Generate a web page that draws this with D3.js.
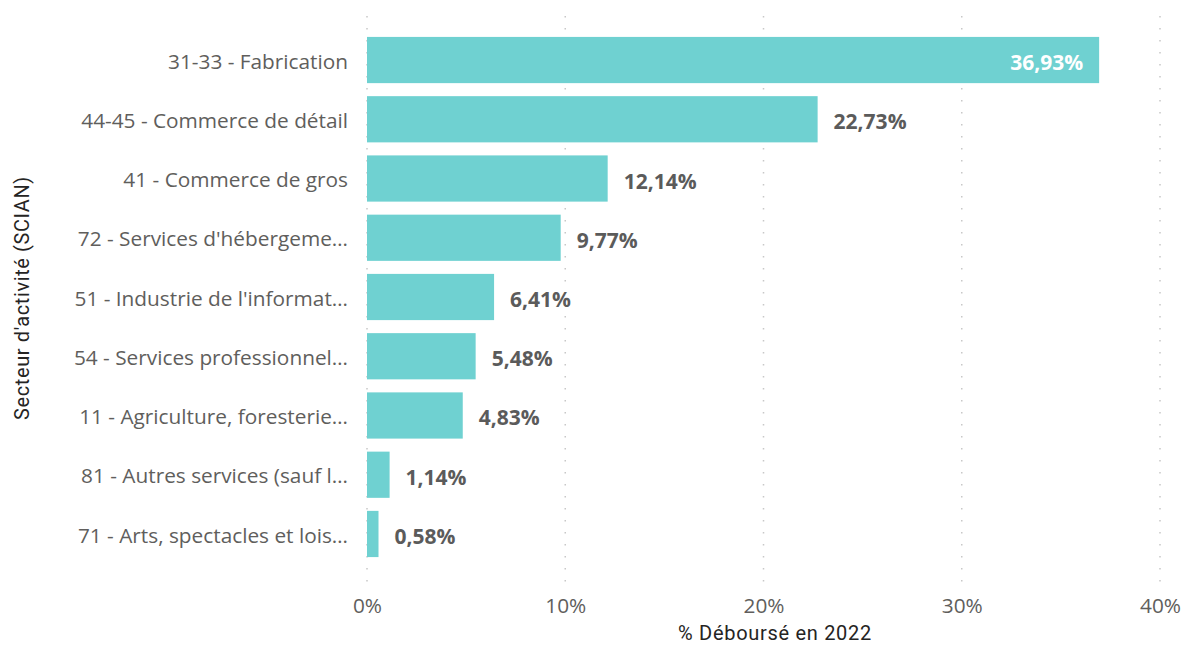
<!DOCTYPE html>
<html><head><meta charset="utf-8">
<script src="https://cdn.jsdelivr.net/npm/d3@7"></script>
<style>body{margin:0;background:#fff}svg{display:block}</style>
</head><body>
<svg id="c" width="1183" height="646"></svg>
<script>
const categories = ["31-33 - Fabrication","44-45 - Commerce de détail","41 - Commerce de gros","72 - Services d'hébergeme…","51 - Industrie de l'informat…","54 - Services professionnel…","11 - Agriculture, foresterie…","81 - Autres services (sauf l…","71 - Arts, spectacles et lois…"];
const values = [36.93,22.73,12.14,9.77,6.41,5.48,4.83,1.14,0.58];
const xTicks = [0,10,20,30,40];
const xTitle = "% Déboursé en 2022";
const yTitle = "Secteur d'activité (SCIAN)";

const svg = d3.select("#c");
const font = "'Open Sans', 'Noto Sans', sans-serif";
const x = d3.scaleLinear().domain([0,40]).range([367,1160]);
const y = d3.scaleBand().domain(categories).range([30.4,563.6]).paddingInner(0.22).paddingOuter(0.11);

// grid
svg.append("g").selectAll("line").data(xTicks).join("line")
  .attr("x1",d=>x(d)).attr("x2",d=>x(d)).attr("y1",16).attr("y2",582)
  .attr("stroke","#c8c8c8").attr("stroke-width",1.5).attr("stroke-dasharray","1.5,10.5");

// bars
svg.append("g").selectAll("rect").data(values).join("rect")
  .attr("x",x(0)).attr("y",(d,i)=>y(categories[i]))
  .attr("width",d=>x(d)-x(0)).attr("height",y.bandwidth())
  .attr("fill","#6fd1d1");

// value labels
const fmt = v => v.toFixed(2).replace(".",",")+"%";
svg.append("g").selectAll("text").data(values).join("text")
  .attr("x",(d,i)=> i===0 ? x(d)-16 : x(d)+16)
  .attr("y",(d,i)=>y(categories[i])+y.bandwidth()/2+10)
  .attr("text-anchor",(d,i)=> i===0 ? "end":"start")
  .attr("font-family",font).attr("font-weight","bold").attr("font-size",21)
  .attr("fill",(d,i)=> i===0 ? "#ffffff" : "#5b5b5b")
  .text(fmt);

// category labels
const ya = d3.axisLeft(y).tickSize(0).tickPadding(19);
const gy = svg.append("g").attr("transform",`translate(${x(0)},2)`).call(ya);
gy.select(".domain").remove();
gy.selectAll("text").attr("font-family",font).attr("font-size",20.8).attr("fill","#605e5c").attr("dy","0.32em");

// x axis
const xa = d3.axisBottom(x).tickValues(xTicks).tickFormat(d=>d+"%").tickSize(0).tickPadding(0);
const gx = svg.append("g").attr("transform","translate(0,605)").call(xa);
gx.select(".domain").remove();
gx.selectAll("text").attr("font-family",font).attr("font-size",20.8).attr("fill","#605e5c").attr("dy","0.4em");

svg.append("text").attr("x",775).attr("y",640).attr("text-anchor","middle")
  .attr("font-family","'Roboto', 'DejaVu Sans', sans-serif").attr("font-size",20).attr("fill","#252423")
  .attr("letter-spacing","0.7").text(xTitle);
svg.append("text").attr("transform","translate(29,298) rotate(-90)").attr("text-anchor","middle")
  .attr("font-family","'Roboto', 'DejaVu Sans', sans-serif").attr("font-size",20).attr("fill","#252423")
  .attr("letter-spacing","0.6").text(yTitle);
</script>
</body></html>
